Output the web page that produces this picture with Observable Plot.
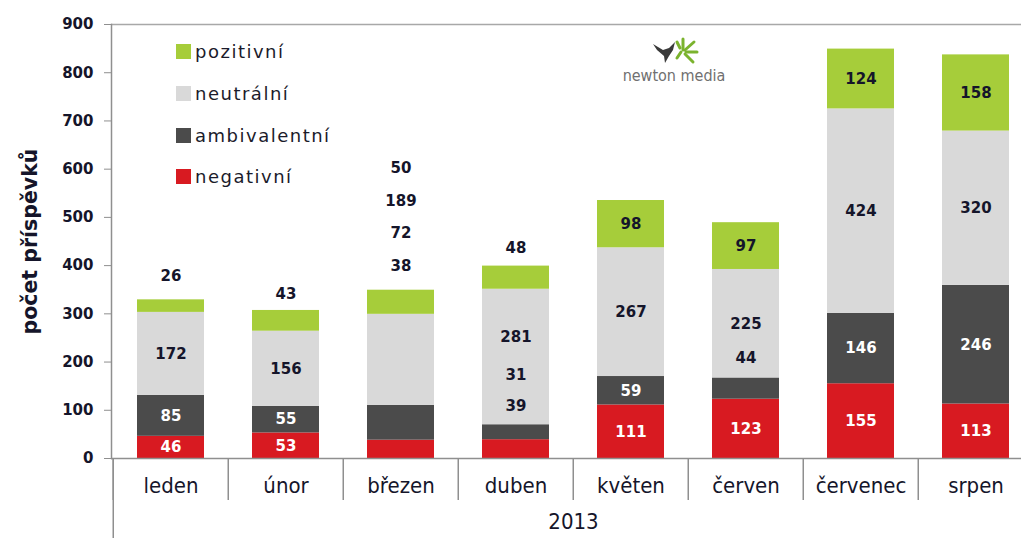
<!DOCTYPE html>
<html>
<head>
<meta charset="utf-8">
<script src="https://cdn.jsdelivr.net/npm/d3@7"></script>
<script src="https://cdn.jsdelivr.net/npm/@observablehq/plot@0.6"></script>
<style>
  body { margin: 0; background: #fff; }
  #wrap { position: relative; width: 1021px; height: 538px; overflow: hidden; font-family: "DejaVu Sans", sans-serif; }
  #legend { position: absolute; left: 176px; top: 31px; }
  .item { height: 41.7px; display: flex; align-items: center; font-size: 18px; letter-spacing: 1.5px; color: #1b1b2b; }
  .sw { width: 15px; height: 15px; margin-right: 4px; }
  #logo { position: absolute; left: 618px; top: 36px; width: 112px; text-align: center; }
  #logo .t { font-family: "Liberation Sans Narrow", "DejaVu Sans Condensed", sans-serif; font-size: 16px; color: #707070; margin-top: -4px; }
</style>
</head>
<body>
<div id="wrap">
  <div id="chart"></div>
  <div id="legend"></div>
  <div id="logo">
    <svg width="70" height="30" viewBox="0 0 70 30">
      <path d="M14 8 L24 14 L30 12 L36 6 L34 14 L30 20 L26 27 L25 20 L18 14 Z" fill="#3a3a3a"/>
      <g stroke="#7bb32e" stroke-width="3" stroke-linecap="round">
        <line x1="44" y1="14" x2="44" y2="3"/>
        <line x1="46" y1="14" x2="55" y2="6"/>
        <line x1="47" y1="16" x2="58" y2="16"/>
        <line x1="46" y1="18" x2="54" y2="26"/>
        <line x1="42" y1="16" x2="38" y2="22"/>
        <line x1="41" y1="12" x2="38" y2="6"/>
      </g>
    </svg>
    <div class="t">newton media</div>
  </div>
</div>
<script>
// ---- data ----
const months = ["leden", "únor", "březen", "duben", "květen", "červen", "červenec", "srpen"];
const series = ["negativní", "ambivalentní", "neutrální", "pozitivní"];
const negativni    = [46, 53, 38, 39, 111, 123, 155, 113];
const ambivalentni = [85, 55, 72, 31, 59, 44, 146, 246];
const neutralni    = [172, 156, 189, 281, 267, 225, 424, 320];
const pozitivni    = [26, 43, 50, 48, 98, 97, 124, 158];
const yTicks = [0, 100, 200, 300, 400, 500, 600, 700, 800, 900];
const yearLabel = "2013";
const yTitle = "počet příspěvků";

// ---- styling ----
const colors = ["#d81a21", "#4b4b4b", "#d9d9d9", "#a6cd3a"];
const darkText = "#15152a";
const axisGray = "#8f8f8f";
const narrowFont = '"Liberation Sans Narrow", "DejaVu Sans Condensed", sans-serif';

// manually moved labels in the original (pixel offsets from segment middle)
const nudges = [
  ["leden", "pozitivní", -30], ["únor", "pozitivní", -27],
  ["březen", "negativní", -183], ["březen", "ambivalentní", -190],
  ["březen", "neutrální", -159], ["březen", "pozitivní", -134],
  ["duben", "negativní", -43], ["duben", "ambivalentní", -57],
  ["duben", "neutrální", -20], ["duben", "pozitivní", -29],
  ["červen", "ambivalentní", -30]
];

// ---- stacking ----
const valuesBySeries = [negativni, ambivalentni, neutralni, pozitivni];
const rows = [];
months.forEach((m, i) => {
  let acc = 0;
  series.forEach((s, j) => {
    const v = valuesBySeries[j][i];
    rows.push({month: m, series: s, value: v, y1: acc, y2: acc + v, mid: acc + v / 2});
    acc += v;
  });
});
const key = (m, s) => m + "|" + s;
const nudgeMap = new Map(nudges.map(([m, s, d]) => [key(m, s), d]));
const plain = rows.filter(r => !nudgeMap.has(key(r.month, r.series)));

const xRange = [111, 1035];
const step = (xRange[1] - xRange[0]) / months.length;

const labelOpts = {fontSize: 15, fontWeight: "bold", ariaLabel: "value-label"};
const nudgedMarks = nudges.map(([m, s, d]) =>
  Plot.text(rows.filter(r => r.month === m && r.series === s),
    {x: "month", y: "mid", text: "value", dy: d, fill: darkText, ...labelOpts}));

const chart = Plot.plot({
  width: 1021,
  height: 538,
  marginTop: 24,
  marginBottom: 80,
  marginLeft: 111,
  marginRight: 0,
  style: {fontFamily: '"DejaVu Sans", sans-serif', background: "#fff"},
  x: {domain: months, range: xRange, paddingInner: 0.42, paddingOuter: 0.21},
  y: {domain: [0, 900]},
  color: {domain: series, range: colors},
  marks: [
    Plot.ruleY([900], {stroke: "#a8a8a8", strokeWidth: 1.5}),
    Plot.barY(rows, {x: "month", y1: "y1", y2: "y2", fill: "series"}),
    Plot.ruleY([0], {stroke: axisGray, strokeWidth: 1.5}),
    Plot.frame({anchor: "left", stroke: axisGray, strokeWidth: 1.5}),
    Plot.axisY({ticks: yTicks, tickSize: 7, tickPadding: 11, stroke: axisGray, fill: darkText,
      fontWeight: "bold", fontSize: 15, label: null}),
    Plot.axisX({tickSize: 0, tickPadding: 19, fontSize: 22, fontFamily: narrowFont, fill: darkText, label: null}),
    Plot.axisX({tickSize: 42, dx: -step / 2, tickFormat: () => "", stroke: axisGray, strokeWidth: 1.5, label: null}),
    Plot.axisX({ticks: [months[0]], tickSize: 80, dx: -step / 2, tickFormat: () => "", stroke: axisGray, strokeWidth: 1.5, label: null}),
    Plot.text([yearLabel], {frameAnchor: "bottom", dx: 7, dy: 70, fontSize: 22, fontFamily: narrowFont, fill: darkText}),
    Plot.text([yTitle], {frameAnchor: "left", textAnchor: "middle", rotate: -90, dx: -81, fontSize: 20.5, fontWeight: "bold", fill: darkText}),
    Plot.text(plain, {x: "month", y: "mid", text: "value",
      fill: d => (d.series === "negativní" || d.series === "ambivalentní") ? "#ffffff" : darkText, ...labelOpts}),
    ...nudgedMarks
  ]
});
document.getElementById("chart").appendChild(chart);
d3.select(chart).selectAll('g[aria-label="value-label"] text').style("letter-spacing", "1.5px");

// legend (top to bottom: reverse stacking order)
const legend = d3.select("#legend");
[...series].reverse().forEach(s => {
  const it = legend.append("div").attr("class", "item");
  it.append("div").attr("class", "sw").style("background", colors[series.indexOf(s)]);
  it.append("span").text(s);
});
</script>
</body>
</html>
